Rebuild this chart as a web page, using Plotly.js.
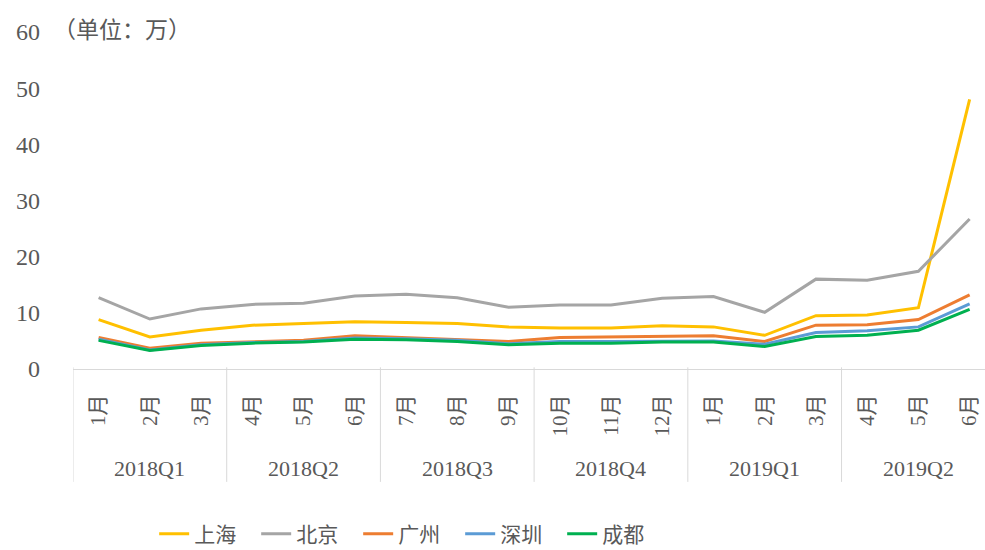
<!DOCTYPE html>
<html>
<head>
<meta charset="utf-8">
<script src="https://cdn.plot.ly/plotly-3.0.1.min.js"></script>
<style>html,body{margin:0;padding:0;background:#fff;}#chart{width:985px;height:550px;}</style>
</head>
<body>
<div id="chart"></div>
<script>
const months = ["1月","2月","3月","4月","5月","6月","7月","8月","9月","10月","11月","12月","1月","2月","3月","4月","5月","6月"];
const quarters = ["2018Q1","2018Q2","2018Q3","2018Q4","2019Q1","2019Q2"];
const seriesNames = ["上海","北京","广州","深圳","成都"];
const shanghai = [8.8,5.7,6.9,7.8,8.1,8.4,8.3,8.1,7.5,7.3,7.3,7.7,7.5,6.0,9.5,9.6,10.9,48.0];
const beijing  = [12.7,8.9,10.7,11.5,11.7,13.0,13.3,12.7,11.0,11.4,11.4,12.6,12.9,10.1,16.0,15.8,17.4,26.7];
const guangzhou= [5.6,3.7,4.6,4.9,5.1,5.9,5.6,5.3,4.9,5.6,5.7,5.9,5.9,4.9,7.8,7.9,8.8,13.2];
const shenzhen = [5.3,3.4,4.3,4.7,4.9,5.5,5.4,5.1,4.5,4.9,4.9,5.0,5.0,4.4,6.5,6.8,7.5,11.6];
const chengdu  = [5.1,3.3,4.2,4.6,4.8,5.3,5.2,4.9,4.3,4.6,4.6,4.8,4.8,4.0,5.8,6.0,6.9,10.6];
const colors = ["#FFC000","#A5A5A5","#ED7D31","#5B9BD5","#00B050"];
const allSeries = [shanghai,beijing,guangzhou,shenzhen,chengdu];

const idx = months.map((m,i)=>i);
const traces = allSeries.map((s,k)=>({
  x: idx, y: s, name: seriesNames[k], type:'scatter', mode:'lines',
  line:{color:colors[k], width:3}, hoverinfo:'skip'
}));

const shapes = [];
const annotations = [];
for (let q=0; q<=quarters.length; q++) {
  shapes.push({type:'line', xref:'x', yref:'paper', x0:q*3-0.5, x1:q*3-0.5, y0:0.005, y1:-0.335,
    line:{color:'#D9D9D9', width:1}});
}
quarters.forEach((q,i)=>{
  annotations.push({xref:'x', yref:'paper', x:i*3+1, y:-0.294, text:q, showarrow:false,
    xanchor:'center', yanchor:'middle', font:{size:22, color:'#595959', family:'Liberation Serif, Noto Sans CJK SC'}});
});
annotations.push({xref:'paper', yref:'paper', x:-0.024, y:1.005, text:'（单位：万）', showarrow:false,
  xanchor:'left', yanchor:'middle', font:{size:23, color:'#595959', family:'Liberation Serif, Noto Sans CJK SC'}});

const layout = {
  width:985, height:550,
  margin:{l:73, r:0, t:32, b:181, autoexpand:false},
  paper_bgcolor:'#fff', plot_bgcolor:'#fff',
  font:{family:'Liberation Serif, Noto Sans CJK SC', color:'#595959', size:22},
  showlegend:true,
  legend:{orientation:'h', x:0.089, xanchor:'left', y:-0.49, yanchor:'middle',
    font:{size:21, color:'#595959'}, entrywidth:57, entrywidthmode:'pixels', tracegroupgap:0},
  xaxis:{range:[-0.5,17.3], tickvals:idx, ticktext:months, tickangle:-90, ticks:'',
    showgrid:false, zeroline:false, showline:true, linecolor:'#D9D9D9', linewidth:1,
    ticklabelstandoff:16, tickfont:{size:21, color:'#595959'}, fixedrange:true, automargin:false},
  yaxis:{range:[0,60], dtick:10, tick0:0, showgrid:false, zeroline:false, showline:false,
    ticks:'', ticklabelstandoff:32, tickfont:{size:24, color:'#595959'}, fixedrange:true, automargin:false},
  shapes:shapes, annotations:annotations
};
Plotly.newPlot('chart', traces, layout, {displayModeBar:false, staticPlot:true});
</script>
</body>
</html>
